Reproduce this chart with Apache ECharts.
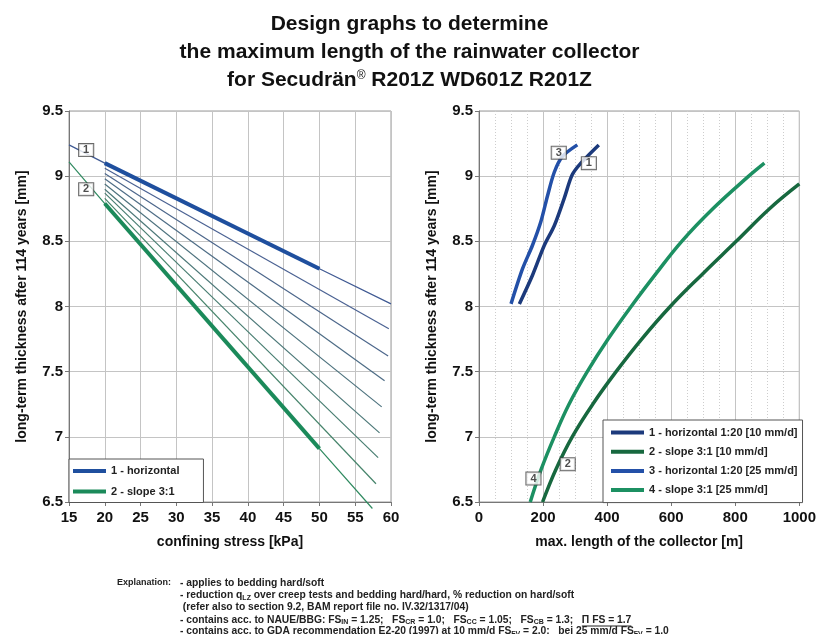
<!DOCTYPE html>
<html><head><meta charset="utf-8">
<script src="https://cdn.jsdelivr.net/npm/echarts@6/dist/echarts.min.js"></script>
<style>html,body{margin:0;padding:0;background:#fff}#c{width:819px;height:634px}</style>
</head><body><div id="c"></div>
<script>
// ---------- DATA ----------
// Left chart: confining stress [kPa] vs thickness [mm]
const line1Thin = [[15, 9.24], [20, 9.10], [50, 8.29], [60, 8.02]];
const line1Thick = [[20, 9.10], [50, 8.29]];
const line2Thin = [[15, 9.11], [20, 8.79], [50, 6.91], [57.4, 6.45]];
const line2Thick = [[20, 8.79], [50, 6.91]];
const fanStartX = 20;
const fanStarts = [9.06, 9.02, 8.98, 8.94, 8.90, 8.87, 8.83];
const fanEnds = [[59.7, 7.83], [59.6, 7.62], [59.1, 7.43], [58.7, 7.23], [58.4, 7.03], [58.2, 6.84], [57.9, 6.64]];
const leftTags = [['1', 17.4, 9.20], ['2', 17.4, 8.90]];
const leftNames = ['1 - horizontal', '2 - slope 3:1'];

// Right chart: max. length [m] vs thickness [mm]
const curve1 = [[126, 8.02], [167, 8.24], [204, 8.47], [235, 8.62], [266, 8.83], [291, 9.01], [318, 9.10], [374, 9.24]];
const curve2 = [[198.5, 6.5], [240, 6.75], [291, 7.0], [355, 7.25], [428, 7.5], [508, 7.75], [597, 8.0], [698, 8.25], [803, 8.5], [907, 8.75], [1000, 8.94]];
const curve3 = [[100, 8.02], [136, 8.29], [167, 8.47], [193, 8.65], [214, 8.85], [235, 9.03], [260, 9.15], [307, 9.24]];
const curve4 = [[160, 6.5], [194, 6.75], [235, 7.0], [281, 7.25], [338, 7.5], [403, 7.75], [475, 8.0], [552, 8.25], [633, 8.5], [730, 8.75], [842, 9.0], [891, 9.10]];
const rightTags = [['3', 249, 9.18], ['1', 343, 9.10], ['4', 170, 6.68], ['2', 277, 6.79]];
const rightNames = ['1 - horizontal 1:20 [10 mm/d]', '2 - slope 3:1 [10 mm/d]', '3 - horizontal 1:20 [25 mm/d]', '4 - slope 3:1 [25 mm/d]'];

const titleLines = ['Design graphs to determine', 'the maximum length of the rainwater collector', 'for Secudrän{sup|®} R201Z WD601Z R201Z'];
const yName = 'long-term thickness after 114 years [mm]';
const xNameLeft = 'confining stress [kPa]';
const xNameRight = 'max. length of the collector [m]';
const explanationHead = 'Explanation:';
const explanationLines = [
  '- applies to bedding hard/soft',
  '- reduction q{s|LZ} over creep tests and bedding hard/hard, % reduction on hard/soft',
  ' (refer also to section 9.2, BAM report file no. IV.32/1317/04)',
  '- contains acc. to NAUE/BBG: FS{s|IN} = 1.25;   FS{s|CR} = 1.0;   FS{s|CC} = 1.05;   FS{s|CB} = 1.3;   ',
  '- contains acc. to GDA recommendation E2-20 (1997) at 10 mm/d FS{s|FV} = 2.0;   bei 25 mm/d FS{s|FV} = 1.0'
];
const piText = 'Π FS = 1.7';

// ---------- CHART ----------
const FONT = "'Liberation Sans', Arial, sans-serif";
const fanColors = ['#4a6192', '#4c668b', '#4d6c85', '#4d727e', '#4c7878', '#497e72', '#46846b'];
const C1 = '#1f4f9e', C2 = '#1b8a5a';
const R1 = '#1c3a7c', R2 = '#17683f', R3 = '#2350a8', R4 = '#1c9062';

function mkX(gi, min, max, interval, name, minor) {
  const a = {
    type: 'value', gridIndex: gi, min: min, max: max, interval: interval,
    axisLine: {show: true, onZero: false, lineStyle: {color: '#777', width: 1}},
    axisTick: {show: true, length: 4, lineStyle: {color: '#777'}},
    axisLabel: {color: '#111', fontWeight: 'bold', fontSize: 15, fontFamily: FONT, margin: 8, formatter: v => String(v)},
    splitLine: {show: true, lineStyle: {color: '#c4c4c4', width: 1}},
    name: name, nameLocation: 'middle', nameGap: 33,
    nameTextStyle: {color: '#111', fontWeight: 'bold', fontSize: 14, fontFamily: FONT}
  };
  if (minor) {
    a.minorTick = {show: false, splitNumber: 4};
    a.minorSplitLine = {show: true, lineStyle: {color: '#cdcdcd', width: 1, type: [1, 2]}};
  }
  return a;
}
function mkY(gi) {
  return {
    type: 'value', gridIndex: gi, min: 6.5, max: 9.5, interval: 0.5,
    axisLine: {show: true, onZero: false, lineStyle: {color: '#777', width: 1}},
    axisTick: {show: true, length: 4, lineStyle: {color: '#777'}},
    axisLabel: {color: '#111', fontWeight: 'bold', fontSize: 15, fontFamily: FONT, margin: 6},
    splitLine: {show: true, lineStyle: {color: '#c4c4c4', width: 1}},
    name: yName, nameLocation: 'middle', nameGap: 40,
    nameTextStyle: {color: '#111', fontWeight: 'bold', fontSize: 14, fontFamily: FONT}
  };
}
function ln(xi, data, color, width, name, extra) {
  return Object.assign({
    type: 'line', name: name, xAxisIndex: xi, yAxisIndex: xi, data: data,
    symbol: 'none', showSymbol: false, silent: true, color: color,
    lineStyle: {color: color, width: width}, itemStyle: {color: color}
  }, extra || {});
}
function tags(xi, list) {
  return {
    type: 'scatter', xAxisIndex: xi, yAxisIndex: xi, symbolSize: 1, silent: true, z: 10,
    itemStyle: {color: 'rgba(0,0,0,0)'},
    data: list.map(t => ({name: t[0], value: [t[1], t[2]]})),
    label: {show: true, position: 'inside', formatter: '{b}', color: '#222', fontSize: 11, fontWeight: 'bold',
      fontFamily: FONT, backgroundColor: '#fff', borderColor: '#444', borderWidth: 1, padding: [1, 4, 0, 4]}
  };
}

const series = [];
fanStarts.forEach((s, i) => series.push(ln(0, [[fanStartX, s], fanEnds[i]], fanColors[i], 1.2, 'fan' + i)));
series.push(ln(0, line1Thin, '#405a93', 1.2, 'l1thin'));
series.push(ln(0, line2Thin, '#2f8a60', 1.2, 'l2thin', {clip: false}));
series.push(ln(0, line1Thick, C1, 4, leftNames[0], {z: 5}));
series.push(ln(0, line2Thick, C2, 4, leftNames[1], {z: 5}));
series.push(tags(0, leftTags));
series.push(ln(1, curve1, R1, 3.5, rightNames[0], {smooth: 0.3}));
series.push(ln(1, curve2, R2, 3.5, rightNames[1], {smooth: 0.4}));
series.push(ln(1, curve3, R3, 3.5, rightNames[2], {smooth: 0.3}));
series.push(ln(1, curve4, R4, 3.5, rightNames[3], {smooth: 0.4}));
series.push(tags(1, rightTags));

const legendBase = {
  orient: 'vertical', icon: 'rect', itemWidth: 33, itemHeight: 4, selectedMode: false,
  borderColor: '#555', borderWidth: 1, borderRadius: 0, backgroundColor: '#fff',
  textStyle: {color: '#222', fontSize: 11, fontWeight: 'bold', fontFamily: FONT, lineHeight: 14}
};

// explanation text
const FS_MAIN = 10.3, FS_SUB = 7;
const TXT = {fontSize: FS_MAIN, fontWeight: 'bold', fontFamily: FONT, fill: '#222', verticalAlign: 'middle', align: 'left', lineHeight: 12,
  rich: {s: {fontSize: FS_SUB, fontWeight: 'bold', fontFamily: FONT, fill: '#222', verticalAlign: 'bottom', lineHeight: 9}}};
function t(x, y, text, fs) {
  const st = Object.assign({text: text}, TXT);
  if (fs) st.fontSize = fs;
  return {type: 'text', x: x, y: y, silent: true, style: st};
}
const cv = document.createElement('canvas').getContext('2d');
function measureRich(str) {
  let w = 0;
  str.split(/(\{s\|[^}]*\})/).forEach(part => {
    const m = part.match(/^\{s\|([^}]*)\}$/);
    if (m) { cv.font = 'bold ' + FS_SUB + 'px ' + FONT; w += cv.measureText(m[1]).width; }
    else if (part) { cv.font = 'bold ' + FS_MAIN + 'px ' + FONT; w += cv.measureText(part).width; }
  });
  return w;
}
const lineX = 180, lineYs = [583, 595.5, 607.5, 620, 631.5];
const piX = lineX + measureRich(explanationLines[3]);
const piW = measureRich(piText);

const graphics = [t(117, lineYs[0], explanationHead, 9)];
explanationLines.forEach((s, i) => graphics.push(t(lineX, lineYs[i], s)));
graphics.push(t(piX, lineYs[3], piText));
graphics.push({type: 'line', silent: true, shape: {x1: piX, y1: lineYs[3] + 6, x2: piX + piW, y2: lineYs[3] + 6}, style: {stroke: '#222', lineWidth: 1}});

const chart = echarts.init(document.getElementById('c'), null, {renderer: 'canvas'});
chart.setOption({
  animation: false,
  backgroundColor: '#fff',
  title: {
    text: titleLines.join('\n'), left: 'center', top: 5,
    textStyle: {color: '#111', fontSize: 21, fontWeight: 'bold', fontFamily: FONT, lineHeight: 28,
      rich: {sup: {color: '#111', fontSize: 12, fontWeight: 'normal', fontFamily: FONT, verticalAlign: 'middle', padding: [0, 0, 9, 0]}}}
  },
  grid: [
    {left: 69, top: 111, width: 322, height: 391, show: true, borderColor: '#9a9a9a', borderWidth: 1},
    {left: 479, top: 111, width: 322, height: 391, show: true, borderColor: '#9a9a9a', borderWidth: 1}
  ],
  xAxis: [mkX(0, 15, 60, 5, xNameLeft, false), mkX(1, 0, 1000, 200, xNameRight, true)],
  yAxis: [mkY(0), mkY(1)],
  legend: [
    Object.assign({}, legendBase, {data: leftNames, left: 69, top: 459, padding: [5, 24, 4, 4], itemGap: 6.5}),
    Object.assign({}, legendBase, {data: rightNames, left: 603, top: 420, padding: [6, 5, 6, 8], itemGap: 6.2,
      textStyle: Object.assign({}, legendBase.textStyle, {lineHeight: 13})})
  ],
  series: series,
  graphic: graphics
});
</script></body></html>
